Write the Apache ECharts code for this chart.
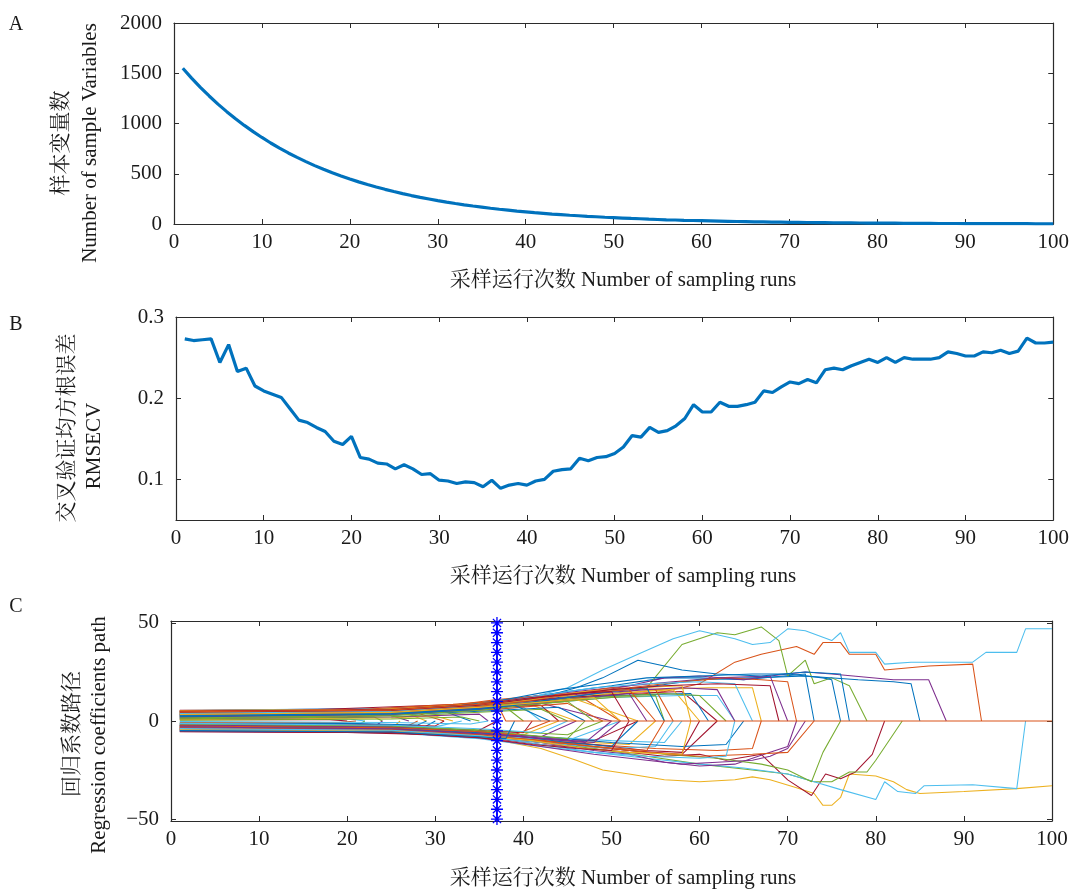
<!DOCTYPE html>
<html>
<head>
<meta charset="utf-8">
<script src="https://cdn.jsdelivr.net/npm/echarts@6/dist/echarts.min.js"></script>
<style>
  html, body { margin: 0; padding: 0; background: #fff; }
  #chart { width: 1072px; height: 889px; }
</style>
</head>
<body>
<div id="chart"></div>
<script>
// ---- data ---------------------------------------------------------------
// sampling runs 1..100
const runs = Array.from({ length: 100 }, (_, i) => i + 1);

// A: number of retained variables per sampling run
const sampleVars = [
  1550, 1452, 1360, 1274, 1193, 1118, 1047, 981, 919, 861,
  806, 755, 707, 663, 621, 581, 545, 510, 478, 448,
  419, 393, 368, 345, 323, 302, 283, 265, 249, 233,
  218, 204, 191, 179, 168, 157, 147, 138, 129, 121,
  113, 106, 99, 93, 87, 82, 76, 72, 67, 63,
  59, 55, 52, 48, 45, 42, 40, 37, 35, 33,
  31, 29, 27, 25, 24, 22, 21, 19, 18, 17,
  16, 15, 14, 13, 12, 11, 11, 10, 9, 9,
  8, 8, 7, 7, 6, 6, 5, 5, 5, 4,
  4, 4, 3, 3, 3, 3, 3, 2, 2, 2
];

// B: RMSECV per sampling run
const rmsecv = [
  0.273, 0.271, 0.272, 0.273, 0.244, 0.266, 0.233, 0.237, 0.215, 0.209,
  0.205, 0.201, 0.187, 0.173, 0.170, 0.164, 0.159, 0.147, 0.143, 0.153,
  0.127, 0.125, 0.120, 0.119, 0.113, 0.118, 0.113, 0.106, 0.107, 0.099,
  0.098, 0.095, 0.097, 0.096, 0.091, 0.099, 0.089, 0.093, 0.095, 0.093,
  0.098, 0.100, 0.110, 0.112, 0.113, 0.126, 0.123, 0.127, 0.128, 0.132,
  0.140, 0.154, 0.152, 0.164, 0.158, 0.160, 0.166, 0.175, 0.192, 0.183,
  0.183, 0.195, 0.190, 0.190, 0.192, 0.195, 0.209, 0.207, 0.214, 0.220,
  0.218, 0.223, 0.219, 0.235, 0.237, 0.235, 0.240, 0.244, 0.248, 0.244,
  0.250, 0.244, 0.250, 0.248, 0.248, 0.248, 0.250, 0.257, 0.255, 0.252,
  0.252, 0.257, 0.256, 0.259, 0.255, 0.258, 0.274, 0.268, 0.268, 0.269
];

// C: regression coefficient paths, each as flat [run, coef, run, coef, ...];
// a path ends where its variable is eliminated (coefficient 0)
const coefPaths = [
  [1,4.8, 20,5.6, 30,7.5, 37,10, 45,15, 50,18, 56,22, 60,22, 65,21, 72,24, 73,0],
  [1,4.0, 25,5, 35,8, 40,10, 46,12, 52,13, 56,15, 60,19, 64,30, 67,34, 71,38, 73,34, 74,40, 76,40, 77,34, 80,34, 81,26, 86,28, 91,29, 92,0],
  [1,-4.8, 25,-5.5, 35,-8, 42,-14, 46,-20, 49,-25, 52,-27, 56,-30, 60,-31, 64,-30, 66,-28.5, 68,-30, 71,-34, 73,-37, 74,-43, 75,-43, 76,-39, 77,-27, 80,-28, 82,-31, 83.5,-35, 85,-37, 90,-36, 96,-34.5, 100,-33],
  [1,5.2, 25,6.5, 35,9, 40,12, 46,15, 52,18, 57,20, 62,22, 68,23, 72,25, 75,24, 82,21, 86,21, 88,0],
  [1,3.2, 25,4.5, 35,7, 42,10, 48,13, 52,15, 54,17, 58,39, 62,45, 64,44, 67,48, 69,41, 70,23, 72,31, 73,19, 75,22, 77,18, 79,0],
  [1,5.4, 25,6.5, 35,8, 40,11, 45,17, 49,26, 53,34, 57,42, 60,46, 64,42, 66,39, 68,40, 70,47, 72,46, 75,41, 76,45, 77,35, 80,35, 81,29, 84,30, 91,30, 92.5,35, 96,35, 97,47, 100,47],
  [1,-4.4, 25,-5, 35,-8, 42,-12, 50,-15, 56,-18, 60,-17, 63,-20, 67,-17, 70,-30, 72.7,-38, 74.3,-27, 76,-29.5, 77.7,-26, 79.6,-17, 81,0],

  [1,3.6, 25,4.8, 35,7, 42,11, 48,14, 55,18, 60,21, 66,22, 72,23, 78,21, 82,20, 84,19, 85,0],
  [1,4.9, 22,5.5, 32,8, 37,11, 45,14, 52,17, 58,20, 63,22, 67,21, 70,20, 71,0],
  [1,2.0, 25,3, 35,6, 42,10, 48,12, 55,16, 61,17, 66,17, 67,0],
  [1,4.1, 25,5, 34,7.5, 41,11, 47,14, 52,18, 56,22, 60,23, 65,21, 68,23, 70,0],
  [1,-3.6, 25,-4.5, 35,-7, 42,-11, 48,-14, 54,-18, 60,-22, 66,-25, 70,-27, 73,-31, 75,-31, 77,-26, 79,-26, 80,-20, 83,0],
  [1,-5.2, 25,-6, 35,-9, 42,-13, 48,-16, 54,-19, 60,-22, 65,-24, 70,-27, 73,-31, 76,-35, 80,-40, 81,-31, 82.5,-36, 84.5,-37, 85.5,-33, 91,-32.5, 96,-34.5, 97,0],
  [1,5.5, 15,5.6, 30,8, 37,9, 45,12, 52,14, 58,15, 62,0],

  [1,2.8, 25,4, 35,7, 42,12, 46,17, 49,22, 53,31, 56,28, 58,26, 62,24, 67,23, 72,25, 76,24, 77,0],
  [1,-2.8, 25,-3.5, 35,-6, 42,-9, 48,-12, 55,-14, 62,-15, 66,-14, 67,0],
  [1,5.3, 25,6, 35,9, 42,12, 50,14, 57,16, 60,0],
  [1,-4.0, 25,-4.8, 35,-7, 42,-11, 48,-15, 52,-17, 56,-21, 60,-23, 64,-22, 68,-16, 70,-13, 71,0],
  [1,-3.2, 25,-4, 35,-6, 42,-10, 50,-14, 56,-17, 62,-19, 67,-22, 70,-25, 72.7,-31, 74,-16, 76,0],
  [1,1.6, 25,3, 34,6, 42,9, 50,12, 58,13, 62,13, 64,0],
  [1,-4.5, 25,-5.2, 35,-7.5, 42,-10, 48,-12, 54,-15, 58,-16, 60,0],

  [1,4.4, 25,5.5, 33,8, 38,11, 44,16, 49,19, 54,22, 60,23, 66,24, 70,24, 74,22, 75,21, 76,0],
  [1,3.9, 25,5, 33,7, 40,9, 47,11, 51,0],
  [1,-3.9, 25,-4.5, 35,-7, 44,-10, 52,-12, 55,0],
  [1,-5.4, 25,-6, 35,-8.5, 42,-13, 48,-17, 54,-20, 58,-22, 62,-21, 66,-20, 68,-18, 70,-14, 72,0],
  [1,2.4, 25,3.5, 35,6, 42,9, 50,12, 55,13, 56,0],
  [1,-2.0, 25,-2.8, 35,-5, 42,-8, 50,-10, 56,-11, 58,0],
  [1,-5.5, 20,-5.8, 30,-7, 37,-9, 45,-12, 52,-15, 58,-17, 62,0],

  [1,4.5, 25,5, 35,7, 43,10, 50,13, 59,14, 61,0],
  [1,5.0, 20,5.5, 32,8.5, 37,10, 44,13, 50,17, 55,16, 57,0],
  [1,4.6, 20,5.2, 30,7, 37,8, 46,11, 53,0],
  [1,3.3, 25,4.3, 35,7, 42,10, 48,14, 54,16, 58,17, 62,16, 64,0],
  [1,4.2, 22,5, 34,7.5, 40,9, 48,12, 56,14, 60,13, 63,0],
  [1,-5.0, 25,-5.5, 35,-8, 42,-11, 50,-14, 55,-13, 57,0],
  [1,-4.6, 25,-5, 35,-7, 42,-9, 48,-10, 53,0],

  [1,-2.4, 25,-3, 35,-5, 42,-8, 50,-11, 58,-13, 63,-12, 65,0],
  [1,-3.3, 25,-4, 35,-6.5, 42,-10, 48,-13, 54,-16, 60,-18, 66,-17, 70,-16, 73,0],
  [1,3.8, 20,4.5, 30,6, 36,7, 41,8, 46,0],
  [1,3.4, 25,4.5, 35,6.5, 42,9, 50,0],
  [1,3.7, 25,4.6, 35,6, 38,7, 40,0],
  [1,2.9, 25,4, 35,5.5, 40,7, 42,0],
  [1,3.1, 25,4.2, 35,6.5, 42,8, 44,0],

  [1,1.9, 25,3, 35,5, 44,7, 47,0],
  [1,2.5, 25,3.5, 37,6, 45,9, 49,0],
  [1,-2.9, 25,-3.8, 35,-5.5, 40,-7, 44,0],
  [1,-3.5, 25,-4.2, 35,-6, 42,-8, 46,0],
  [1,-1.6, 25,-2.5, 35,-4.5, 45,-7, 49,0],
  [1,-4.7, 25,-5.3, 36,-7.5, 45,-10, 51,0],
  [1,-4.2, 22,-4.5, 30,-6, 34,-7, 37,0],

  [1,3.0, 22,3.8, 31,5, 34,0],
  [1,2.6, 20,3, 28,4, 31,0],
  [1,2.2, 18,2.5, 27,3.5, 29,0],
  [1,1.8, 20,2.2, 25,2.8, 27,0],
  [1,1.4, 18,1.6, 23,2.2, 24,0],
  [1,1.0, 20,1.2, 22,0],
  [1,0.6, 18,0.7, 20,0],

  [1,-3.8, 20,-4, 28,-5, 30,0],
  [1,-3.4, 20,-3.6, 26,-4.5, 28,0],
  [1,-3.0, 20,-3.2, 25,-4, 26,0],
  [1,-2.6, 18,-2.7, 23,-3.2, 24,0],
  [1,-2.2, 18,-2.3, 21,-2.6, 22,0],
  [1,-1.8, 20,-2, 30,-3, 33,0],
  [1,-1.4, 20,-1.6, 30,-2.5, 31,0],

  [1,-1.0, 20,-1.2, 28,-2, 29,0],
  [1,-0.6, 19,-0.8, 21,0],
  [1,0.8, 25,1.5, 30,2.5, 32,0],
  [1,1.2, 25,2, 35,3.5, 36,0],
  [1,0.4, 25,1, 33,2, 35,0],
  [1,-0.3, 25,-0.8, 34,-1.5, 36,0],
  [1,-2.3, 25,-3.2, 35,-5, 40,-6, 41,0],

  [1,2.7, 25,3.8, 35,6.5, 40,9, 45,12, 50,15, 54,17, 56,0],
  [1,3.5, 25,4.6, 35,7.5, 40,10, 46,14, 52,16, 55,0],
  [1,4.3, 25,5.3, 35,8, 41,11, 47,15, 53,17, 58,18, 59,0],
  [1,2.1, 25,3.2, 35,6, 42,9, 47,12, 52,14, 54,0],
  [1,1.5, 25,2.8, 35,5.5, 40,8, 45,10, 48,0],
  [1,3.9, 25,5, 35,8, 42,13, 48,17, 54,19, 60,20, 64,19, 66,0],
  [1,4.9, 25,5.8, 35,8.5, 41,12, 46,14, 50,15, 52,0],

  [1,-2.7, 25,-3.6, 35,-6, 40,-8, 45,-11, 50,-13, 53,0],
  [1,-3.5, 25,-4.4, 35,-7, 42,-10, 48,-13, 54,-15, 56,0],
  [1,-4.3, 25,-5, 35,-7.5, 41,-10, 47,-14, 52,-16, 58,-17, 59,0],
  [1,-2.1, 25,-3, 35,-5.5, 42,-9, 47,-11, 50,0],
  [1,-1.5, 25,-2.5, 35,-5, 40,-7, 45,-9, 47,0],
  [1,-3.9, 25,-4.7, 35,-7.5, 42,-12, 48,-16, 54,-18, 60,-19, 63,-18, 64,0],
  [1,-5.1, 25,-5.8, 35,-8.5, 41,-12, 46,-14, 50,-15, 52,0],

  [1,2.3, 25,3.4, 35,6, 39,8, 43,0],
  [1,-2.5, 25,-3.4, 35,-5.5, 39,-7, 43,0],
  [1,3.3, 25,4.4, 35,7, 43,10, 48,12, 51,0],
  [1,-3.1, 25,-4, 35,-6.5, 43,-9, 48,-11, 51,0],
  [1,1.1, 25,2.2, 35,4.5, 42,6, 45,0],
  [1,-1.2, 25,-2.2, 35,-4, 42,-6, 45,0],
  [1,4.5, 25,5.4, 35,8, 42,12, 50,16, 56,18, 62,19, 68,18, 69,0],

  [1,-4.9, 25,-5.6, 35,-8, 38,-9, 39,0],
  [1,4.7, 25,5.6, 35,8.5, 37,9, 38,0, 100,0]
];

// optimal run marked by the starred vertical line, and its marker heights
const bestRun = 37;
const starHeights = [-50, -45, -40, -35, -30, -25, -20, -15, -10, -5, 0, 5, 10, 15, 20, 25, 30, 35, 40, 45, 50];

// tick positions
const runTicks = [0, 10, 20, 30, 40, 50, 60, 70, 80, 90, 100];
const varTicks = [0, 500, 1000, 1500, 2000];
const rmseTicks = [0.1, 0.2, 0.3];
const coefTicks = [-50, 0, 50];

// texts
const xTitle = '采样运行次数 Number of sampling runs';
const panelLetters = ['A', 'B', 'C'];

// ---- styling ------------------------------------------------------------
const AX = '#2b2b2b';
const TXT = '#1a1a1a';
const FONT = "'Liberation Serif','Times New Roman','Noto Serif CJK SC','Noto Sans CJK SC',serif";
const PALETTE = ['#0072BD', '#D95319', '#EDB120', '#7E2F8E', '#77AC30', '#4DBEEE', '#A2142F'];

const grids = [
  { left: 174, top: 23, width: 883, height: 201 },
  { left: 176, top: 317, width: 881, height: 203 },
  { left: 171, top: 621, width: 881, height: 200 }
];

function minusFmt(v) {
  return v < 0 ? '\u2212' + Math.abs(v) : String(v);
}

function xPair(g) {
  const base = {
    type: 'value', gridIndex: g, min: runTicks[0], max: runTicks[runTicks.length - 1],
    interval: runTicks[1] - runTicks[0],
    axisLine: { show: true, onZero: false, lineStyle: { color: AX, width: 1.2 } },
    axisTick: { show: true, inside: true, length: 5, lineStyle: { color: AX, width: 1 } },
    splitLine: { show: false }
  };
  return [
    Object.assign({}, base, {
      position: 'bottom',
      axisLabel: { show: true, margin: 8, color: TXT, fontFamily: FONT, fontSize: 21 }
    }),
    Object.assign({}, base, { position: 'top', axisLabel: { show: false } })
  ];
}

function yPair(g, range, ticks, fmt) {
  const base = {
    type: 'value', gridIndex: g, min: range[0], max: range[1],
    axisLine: { show: true, onZero: false, lineStyle: { color: AX, width: 1.2 } },
    axisTick: { show: true, inside: true, length: 5, lineStyle: { color: AX, width: 1 }, customValues: ticks },
    splitLine: { show: false }
  };
  return [
    Object.assign({}, base, {
      position: 'left',
      axisLabel: { show: true, margin: 12, color: TXT, fontFamily: FONT, fontSize: 21, customValues: ticks, formatter: fmt }
    }),
    Object.assign({}, base, { position: 'right', axisLabel: { show: false } })
  ];
}

const xAxes = [].concat(xPair(0), xPair(1), xPair(2));
const yAxes = [].concat(
  yPair(0, [0, 2000], varTicks, v => String(v)),
  yPair(1, [0.05, 0.3], rmseTicks, v => v.toFixed(1)),
  yPair(2, [-51, 51], coefTicks, minusFmt)
);

// ---- series -------------------------------------------------------------
const series = [];

series.push({
  type: 'line', xAxisIndex: 0, yAxisIndex: 0, symbol: 'none', silent: true,
  data: runs.map((r, i) => [r, sampleVars[i]]),
  lineStyle: { color: '#0072BD', width: 3.2 }, z: 5
});

series.push({
  type: 'line', xAxisIndex: 2, yAxisIndex: 2, symbol: 'none', silent: true,
  data: runs.map((r, i) => [r, rmsecv[i]]),
  lineStyle: { color: '#0072BD', width: 3.2 }, z: 5
});

coefPaths.forEach((flat, i) => {
  const pts = [];
  for (let k = 0; k < flat.length; k += 2) pts.push([flat[k], flat[k + 1]]);
  series.push({
    type: 'line', xAxisIndex: 4, yAxisIndex: 4, symbol: 'none', silent: true,
    data: pts,
    lineStyle: { color: PALETTE[i % PALETTE.length], width: 1.05 }, z: 3
  });
});

series.push({
  type: 'line', xAxisIndex: 4, yAxisIndex: 4, silent: true,
  data: starHeights.map(h => [bestRun, h]),
  symbol: 'path://M5,0L5,10M0,5L10,5M1.6,1.6L8.4,8.4M1.6,8.4L8.4,1.6',
  symbolSize: 12, symbolKeepAspect: true,
  itemStyle: { color: 'rgba(0,0,0,0)', borderColor: '#0000FF', borderWidth: 1.3 },
  lineStyle: { color: '#0000FF', width: 1.6 }, z: 6
});

// ---- text ---------------------------------------------------------------
function label(text, x, y, size, rotate) {
  return {
    type: 'text', x: x, y: y, rotation: rotate ? Math.PI / 2 : 0, silent: true,
    style: { text: text, fill: TXT, font: size + 'px ' + FONT, align: 'center', verticalAlign: 'middle' }
  };
}

const graphics = [
  label(panelLetters[0], 16, 25, 20, false),
  label(panelLetters[1], 16, 325, 20, false),
  label(panelLetters[2], 16, 607, 20, false),

  label(xTitle, 623, 280, 21, false),
  label(xTitle, 623, 576, 21, false),
  label(xTitle, 623, 878, 21, false),

  label('样本变量数', 61, 143, 21, true),
  label('Number of sample Variables', 90, 143, 21, true),

  label('交叉验证均方根误差', 67, 428, 21, true),
  label('RMSECV', 94, 446, 21, true),

  label('回归系数路径', 72, 734, 21, true),
  label('Regression coefficients path', 99, 735, 21, true)
];

const chart = echarts.init(document.getElementById('chart'), null, { renderer: 'canvas' });
chart.setOption({
  backgroundColor: '#ffffff',
  animation: false,
  grid: grids,
  xAxis: xAxes,
  yAxis: yAxes,
  series: series,
  graphic: graphics
});
</script>
</body>
</html>
